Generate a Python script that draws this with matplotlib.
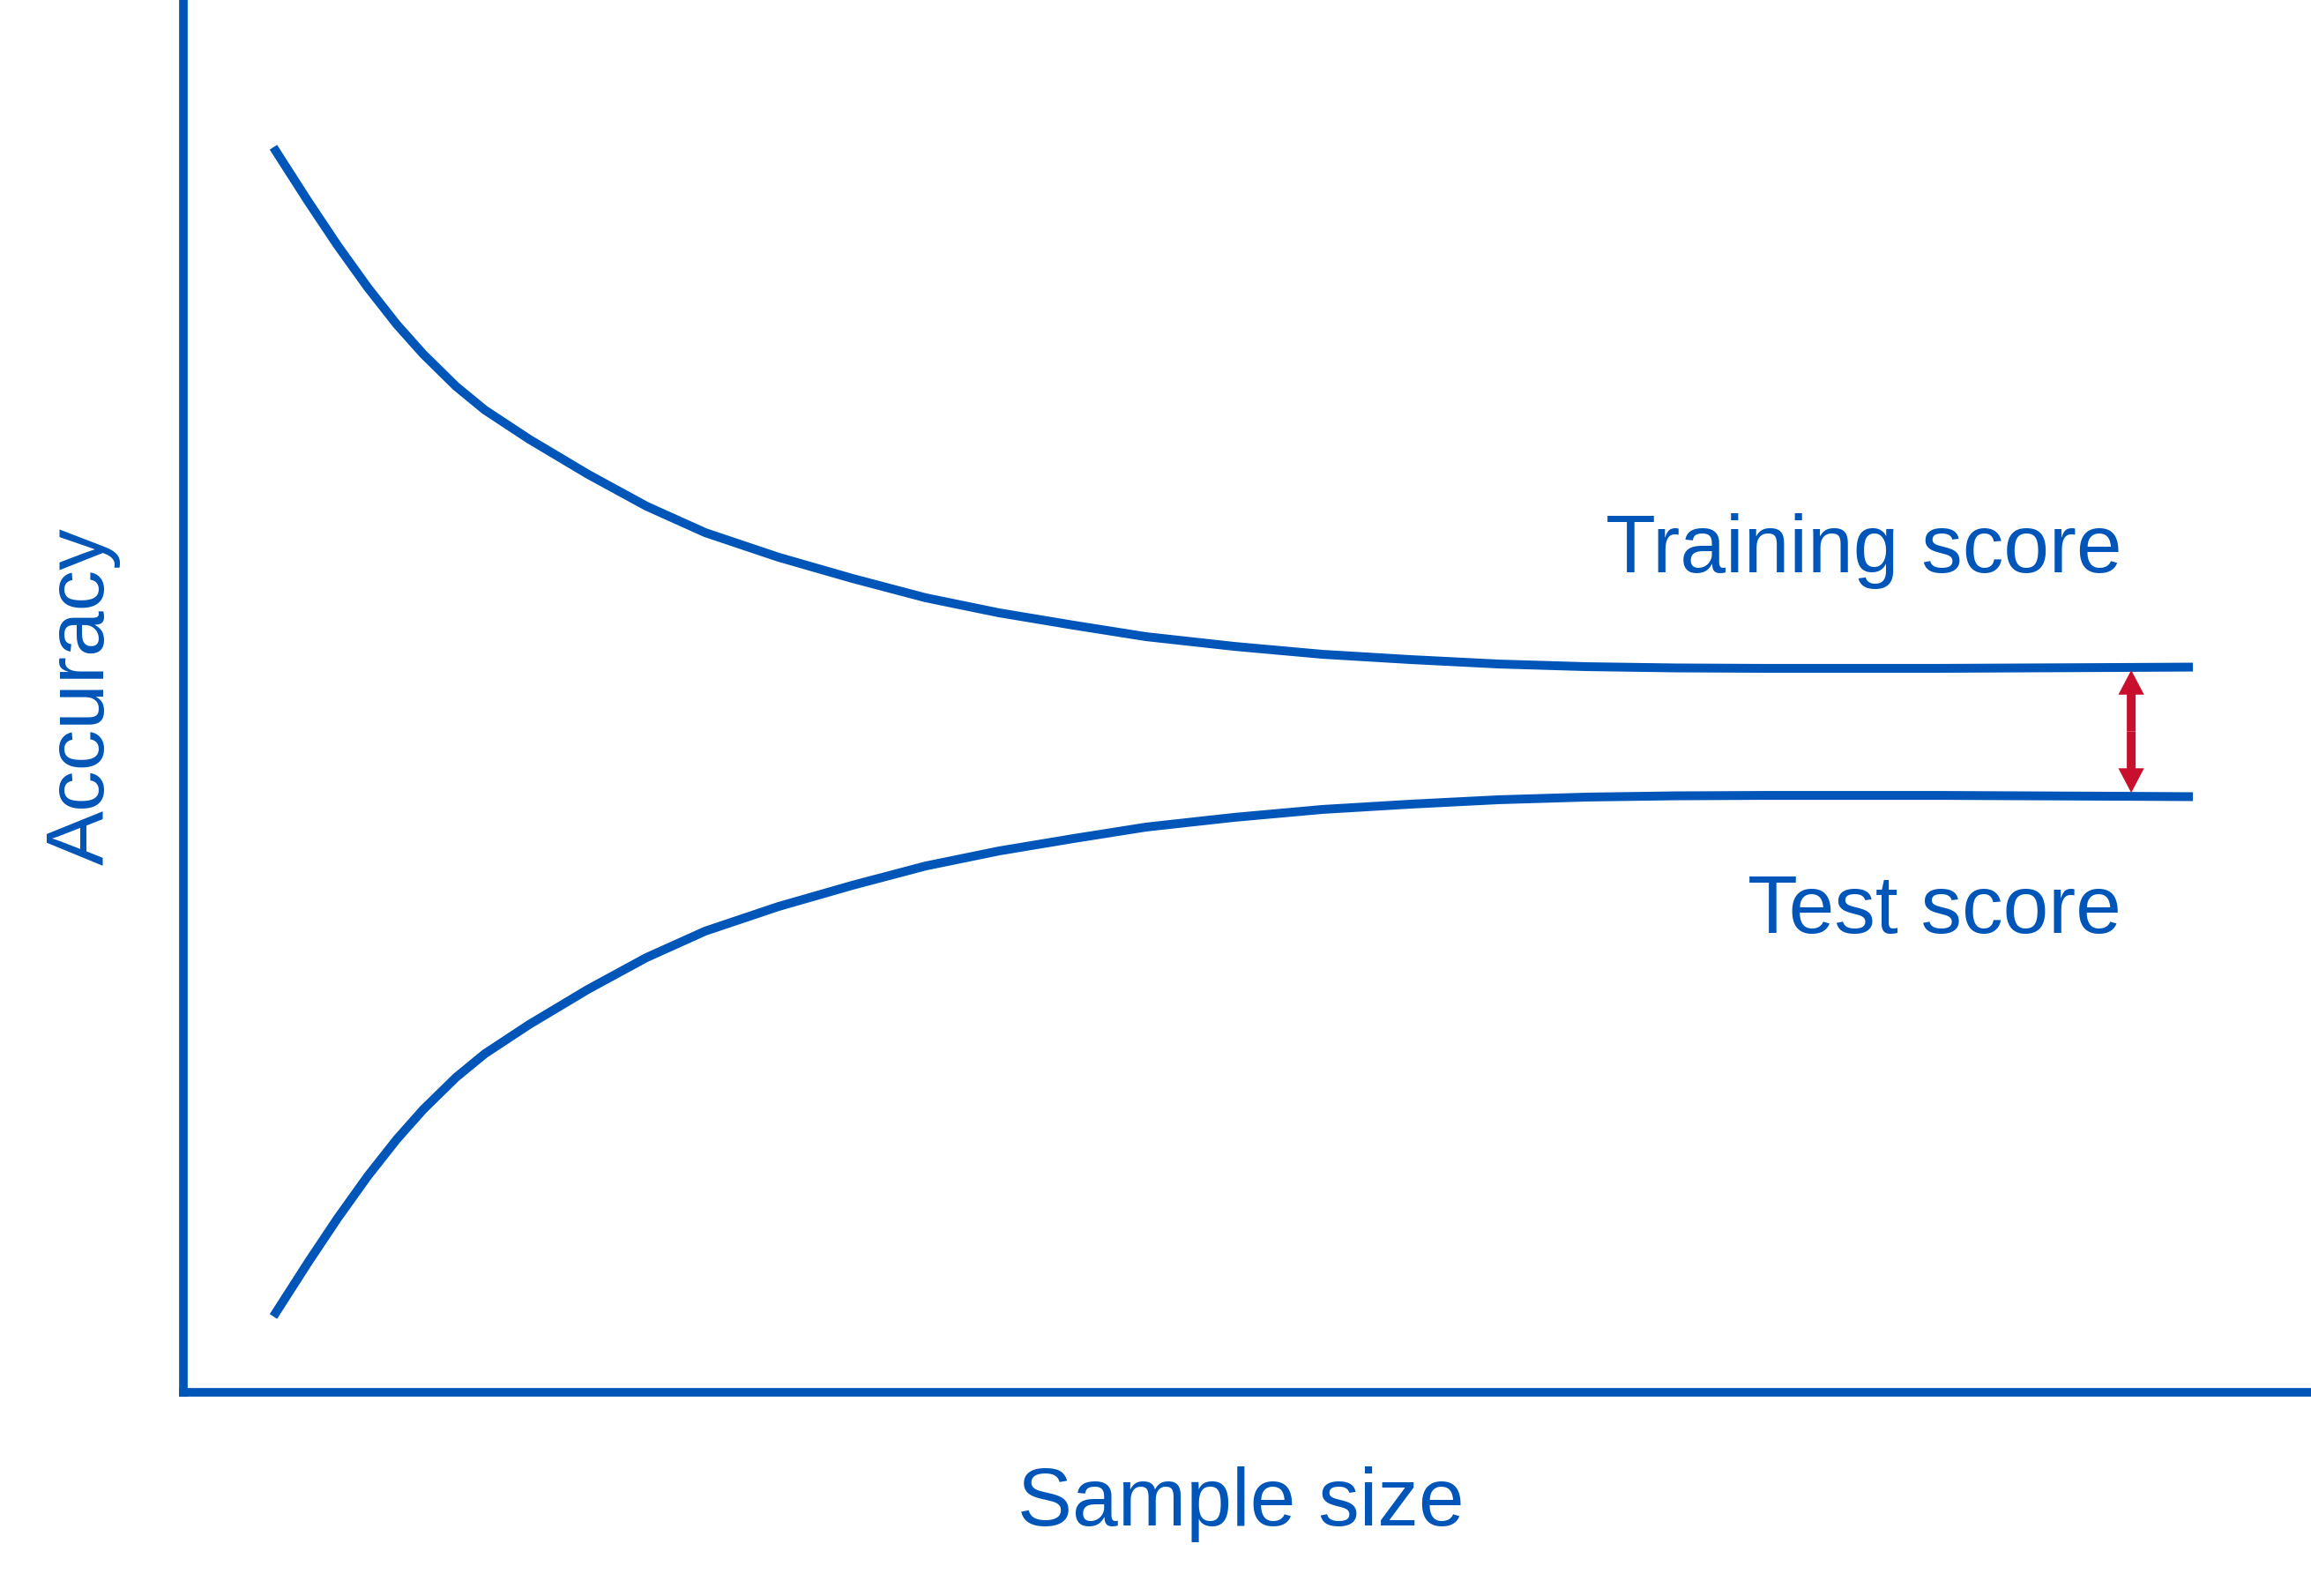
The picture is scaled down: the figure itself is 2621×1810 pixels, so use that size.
import matplotlib
matplotlib.use('Agg')
import matplotlib.pyplot as plt

# values (arbitrary units, both axes run 0-100)
sample_size = [4.23, 5.88, 7.25, 8.66, 10.03, 11.27, 12.81, 14.17, 16.25, 19.02, 21.76,
               24.53, 27.97, 31.45, 34.89, 38.33, 41.82, 45.25, 49.40, 53.54, 57.69,
               61.83, 65.98, 70.12, 74.26, 78.41, 82.55, 86.70, 90.84, 94.45]
training_score = [89.65, 85.71, 82.57, 79.56, 76.89, 74.76, 72.44, 70.73, 68.63, 66.10, 63.81,
                  61.90, 60.13, 58.60, 57.21, 56.13, 55.24, 54.41, 53.71, 53.14, 52.76,
                  52.44, 52.25, 52.16, 52.13, 52.13, 52.13, 52.16, 52.19, 52.22]
test_score = [5.46, 9.40, 12.54, 15.56, 18.22, 20.36, 22.67, 24.38, 26.48, 29.02, 31.30,
              33.21, 34.98, 36.51, 37.90, 38.98, 39.87, 40.70, 41.40, 41.97, 42.35,
              42.67, 42.86, 42.95, 42.98, 42.98, 42.98, 42.95, 42.92, 42.89]

gap_x = 91.55
gap_top = 52.0
gap_bottom = 43.17

blue = '#0055B8'
red = '#C8102E'
plt.rcParams['font.family'] = ['Liberation Sans', 'DejaVu Sans']

fig = plt.figure(figsize=(26.21, 18.10), dpi=100)
ax = fig.add_axes([208/2621, 231/1810, 2413/2621, 1575/1810])

ax.plot(sample_size, training_score, color=blue, lw=7.2, solid_capstyle='butt',
        solid_joinstyle='round')
ax.plot(sample_size, test_score, color=blue, lw=7.2, solid_capstyle='butt',
        solid_joinstyle='round')

# double-headed gap arrow, drawn as two halves from the middle
mid = (gap_top + gap_bottom) / 2
for tip in (gap_top, gap_bottom):
    ax.annotate('', xy=(gap_x, tip), xytext=(gap_x, mid),
                arrowprops=dict(arrowstyle='simple,head_length=2.0,head_width=2.1,tail_width=0.72',
                                mutation_scale=10, lw=0, color=red,
                                shrinkA=0, shrinkB=0))

ax.text(91.1, 59.07, 'Training score', color=blue, fontsize=67, ha='right', va='baseline')
ax.text(91.1, 33.08, 'Test score', color=blue, fontsize=67, ha='right', va='baseline')
ax.text(49.7, -9.59, 'Sample size', color=blue, fontsize=67, ha='center', va='baseline',
        clip_on=False)
ax.text(-3.73, 50.1, 'Accuracy', color=blue, fontsize=67, ha='center', va='baseline',
        rotation=90, rotation_mode='anchor', clip_on=False)

ax.set_xlim(0, 100)
ax.set_ylim(0, 100)
ax.set_xticks([])
ax.set_yticks([])
for side in ['top', 'right']:
    ax.spines[side].set_visible(False)
for side in ['left', 'bottom']:
    ax.spines[side].set_color(blue)
    ax.spines[side].set_linewidth(7)

fig.savefig('out.png', dpi=100)
